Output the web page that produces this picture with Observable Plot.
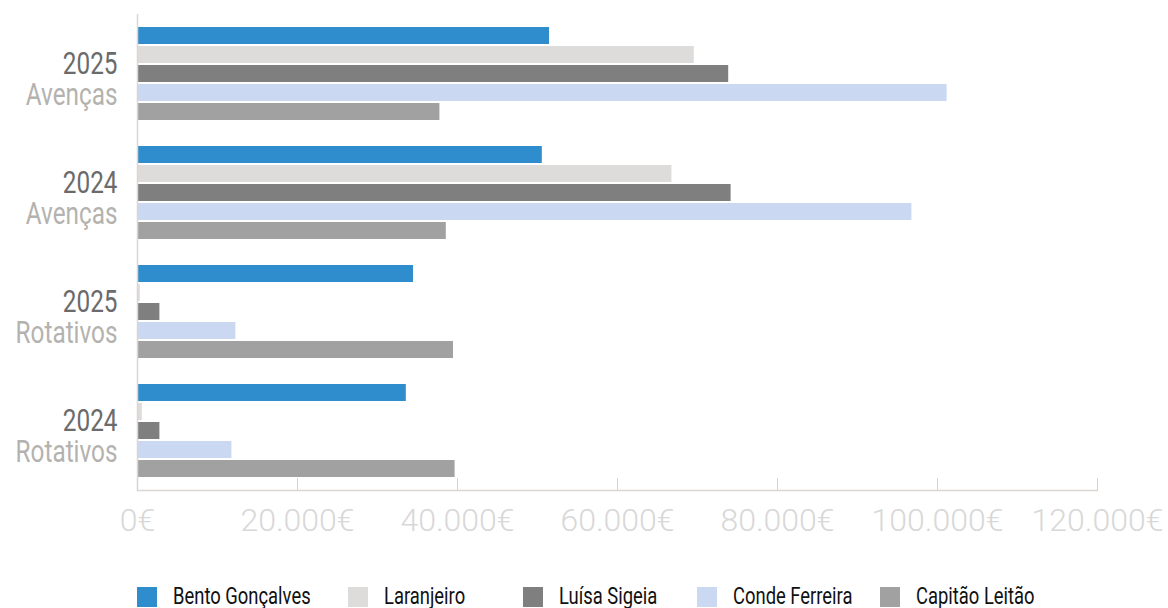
<!DOCTYPE html>
<html>
<head>
<meta charset="utf-8">
<script src="https://cdn.jsdelivr.net/npm/d3@7"></script>
<script src="https://cdn.jsdelivr.net/npm/@observablehq/plot@0.6"></script>
<style>
  html, body { margin: 0; padding: 0; background: #fff; }
  body { width: 1168px; height: 608px; overflow: hidden; font-family: Roboto, "Liberation Sans", sans-serif; }
  #legend { position: relative; width: 1168px; height: 30px; }
  .item { position: absolute; top: 9px; height: 20px; }
  .sw { position: absolute; left: 0; top: 0; width: 20px; height: 20px; }
  .lb { position: absolute; left: 36px; top: -2px; font-size: 23px; color: #111; line-height: 24px; white-space: nowrap;
        transform: scaleX(0.8); transform-origin: 0 50%; }
</style>
</head>
<body>
<div id="chart"></div>
<div id="legend"></div>
<script>
// ---- data ----
const groups = ["2025 Avenças", "2024 Avenças", "2025 Rotativos", "2024 Rotativos"];
const years = ["2025", "2024", "2025", "2024"];
const kinds = ["Avenças", "Avenças", "Rotativos", "Rotativos"];
const series = ["Bento Gonçalves", "Laranjeiro", "Luísa Sigeia", "Conde Ferreira", "Capitão Leitão"];
const colors = ["#2f8dcd", "#dddcdb", "#7f7f7f", "#cad9f1", "#a0a1a0"];
const bentoGoncalves = [51500, 50600, 34500, 33600];
const laranjeiro = [69600, 66800, 350, 600];
const luisaSigeia = [73900, 74200, 2800, 2800];
const condeFerreira = [101200, 96800, 12300, 11800];
const capitaoLeitao = [37800, 38600, 39500, 39700];
const xTicks = [0, 20000, 40000, 60000, 80000, 100000, 120000];
const legendLeft = [137, 348, 523, 697, 880];

const valuesBySeries = [bentoGoncalves, laranjeiro, luisaSigeia, condeFerreira, capitaoLeitao];
const table = [];
groups.forEach((g, gi) => {
  series.forEach((s, si) => {
    table.push({group: g, series: s, value: valuesBySeries[si][gi]});
  });
});
const labelRows = groups.map((g, i) => ({group: g, year: years[i], kind: kinds[i]}));

const locale = d3.formatLocale({decimal: ",", thousands: ".", grouping: [3], currency: ["", "€"]});
const fmt = locale.format("$,");

const FONT = 'Roboto, "Liberation Sans", sans-serif';
const lastGroup = groups[groups.length - 1];

const chart = Plot.plot({
  width: 1168,
  height: 578,
  marginLeft: 137,
  marginRight: 71,
  marginTop: 13,
  marginBottom: 87,
  style: {fontFamily: FONT, background: "#fff", overflow: "visible"},
  x: {domain: [0, 120000], axis: null},
  y: {domain: series, paddingInner: 0.08, paddingOuter: 0.668, axis: null},
  fy: {domain: groups, padding: 0, axis: null},
  color: {domain: series, range: colors},
  marks: [
    Plot.barX(table, {x: "value", y: "series", fy: "group", fill: "series"}),
    Plot.ruleX([0], {stroke: "#dcd6d3", strokeWidth: 1.5}),
    Plot.tickX(xTicks, {x: d => d, fy: () => lastGroup, stroke: "#d6d2cf", insetTop: 107}),
    Plot.frame({anchor: "bottom", facetAnchor: "bottom", stroke: "#dcd6d3", strokeWidth: 1.5}),
    Plot.axisX(xTicks, {tickSize: 0, tickPadding: 18, tickFormat: fmt, fontSize: 32, fontWeight: 300, color: "#d8d8d8", label: null, facetAnchor: "bottom"}),
    Plot.text(labelRows, {fy: "group", text: "year", frameAnchor: "left", dx: -20, textAnchor: "end", lineAnchor: "bottom", fontSize: 32, fill: "#6b6b6b", className: "grp-label"}),
    Plot.text(labelRows, {fy: "group", text: "kind", frameAnchor: "left", dx: -20, dy: 31, textAnchor: "end", lineAnchor: "bottom", fontSize: 32, fill: "#b4b2af", className: "grp-label"})
  ]
});
document.getElementById("chart").appendChild(chart);

// condensed look for the group labels (horizontal squeeze around the anchor)
d3.select(chart).selectAll(".grp-label text").each(function() {
  const t = this.getAttribute("transform") || "";
  this.setAttribute("transform", t + " scale(0.76,1)");
});

const legend = document.getElementById("legend");
series.forEach((s, i) => {
  const item = document.createElement("div");
  item.className = "item";
  item.style.left = legendLeft[i] + "px";
  const sw = document.createElement("div");
  sw.className = "sw";
  sw.style.background = colors[i];
  const lb = document.createElement("span");
  lb.className = "lb";
  lb.textContent = s;
  item.appendChild(sw);
  item.appendChild(lb);
  legend.appendChild(item);
});
</script>
</body>
</html>
